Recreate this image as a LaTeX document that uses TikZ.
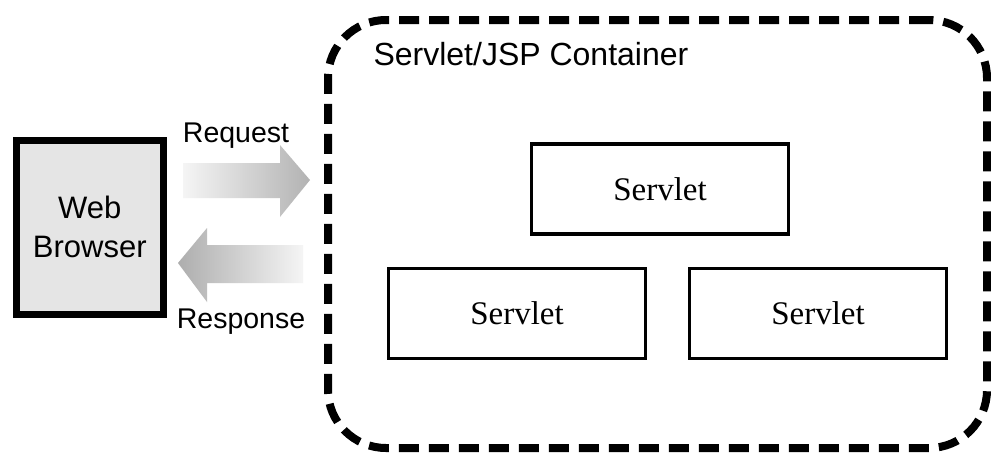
\documentclass[tikz,border=0pt]{standalone}
\usepackage{fontspec}
\setmainfont{Liberation Serif}
\setsansfont{Liberation Sans}
\usetikzlibrary{calc}

\tikzset{
  servlet/.style={draw, line width=3.5pt, minimum width=257pt, minimum height=90pt,
    inner sep=0pt, font=\fontsize{33}{38}\selectfont},
  label/.style={font=\sffamily\fontsize{28.5}{34}\selectfont, anchor=base}
}

\begin{document}
\begin{tikzpicture}[x=1pt,y=-1pt]
\useasboundingbox[fill=white] (0,0) rectangle (991,453);

% container
\node [draw, line width=8pt, dash pattern=on 20pt off 10pt, rounded corners=58pt,
  minimum width=659pt, minimum height=428pt] (container) at (657.5,234) {};
\node [anchor=base west, font=\sffamily\fontsize{32}{38}\selectfont] (title) at (370,65) {Servlet/JSP Container};

% servlets
\node [servlet] (s1) at (660,189) {Servlet};
\node [servlet] (s2) at (517,313.5) {Servlet};
\node [servlet] (s3) at (818,313.5) {Servlet};

% browser
\node [draw, line width=7pt, fill=black!10, minimum width=146.5pt, minimum height=174pt,
  align=center, font=\sffamily\fontsize{31}{39}\selectfont] (browser) at (89.75,227) {Web\\Browser};

% request / response arrows
\shade [left color=black!4, right color=black!30]
  (183,163) -- (280,163) -- (280,145) -- (310,180) -- (280,217) -- (280,198) -- (183,198) -- cycle;
\shade [left color=black!32, right color=black!4]
  (178,263) -- (207,228) -- (207,245) -- (303,245) -- (303,283) -- (207,283) -- (207,302) -- cycle;
\node [label] (req) at (236,142) {Request};
\node [label] (resp) at (241,328) {Response};

\end{tikzpicture}
\end{document}
